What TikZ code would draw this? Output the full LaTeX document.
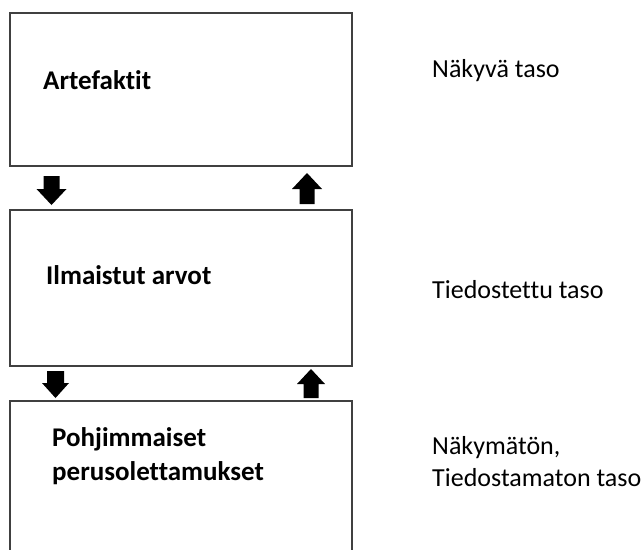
\documentclass[tikz,border=0pt]{standalone}
\usepackage{fontspec}
\setmainfont{Carlito}[Ligatures=NoCommon]
\definecolor{boxgray}{HTML}{404040}
% block arrow: centre x, shaft end y, head base y, tip y, shaft half width, head half width
\newcommand\blockarrow[6]{%
  \fill[black] ({#1-#5},#2) -- ({#1+#5},#2) -- ({#1+#5},#3) -- ({#1+#6},#3)
    -- (#1,#4) -- ({#1-#6},#3) -- ({#1-#5},#3) -- cycle;}
\begin{document}
\begin{tikzpicture}[x=1pt,y=-1pt,
  layerbox/.style={draw=boxgray, line width=1.4pt, inner sep=0pt, outer sep=0pt,
    anchor=north west, minimum width=342pt},
  boxtext/.style={font=\fontsize{27}{34}\selectfont\bfseries, inner sep=0pt,
    anchor=base west, align=left},
  leveltext/.style={font=\fontsize{26}{32}\selectfont, inner sep=0pt,
    anchor=base west, align=left}]
  \useasboundingbox (0,0) rectangle (644,549);
  \clip (0,0) rectangle (644,549);
  \fill[white] (0,0) rectangle (644,549);

  % the three layers
  \node[layerbox, minimum height=153pt] (box1) at (10,13) {};
  \node[layerbox, minimum height=156pt] (box2) at (10,210) {};
  \node[layerbox, minimum height=170pt] (box3) at (10,401) {};

  \node[boxtext] (art) at (43,89) {Artefaktit};
  \node[boxtext] (arvot) at (46,284) {Ilmaistut arvot};
  \node[boxtext] (olet) at (52,480) {Pohjimmaiset\\perusolettamukset};

  % level labels
  \node[leveltext] (nakyva) at (432,77) {Näkyvä taso};
  \node[leveltext] (tied) at (432,298) {Tiedostettu taso};
  \node[leveltext] (nakym) at (432,486) {Näkymätön,\\Tiedostamaton taso};

  % arrows between the layers
  \blockarrow{51.5}{176}{189}{205}{8}{15}
  \blockarrow{307}{204}{189}{173}{7.5}{15}
  \blockarrow{55.5}{371}{383}{398}{8.5}{13.5}
  \blockarrow{311}{398}{384}{369}{7.5}{14}
\end{tikzpicture}
\end{document}
